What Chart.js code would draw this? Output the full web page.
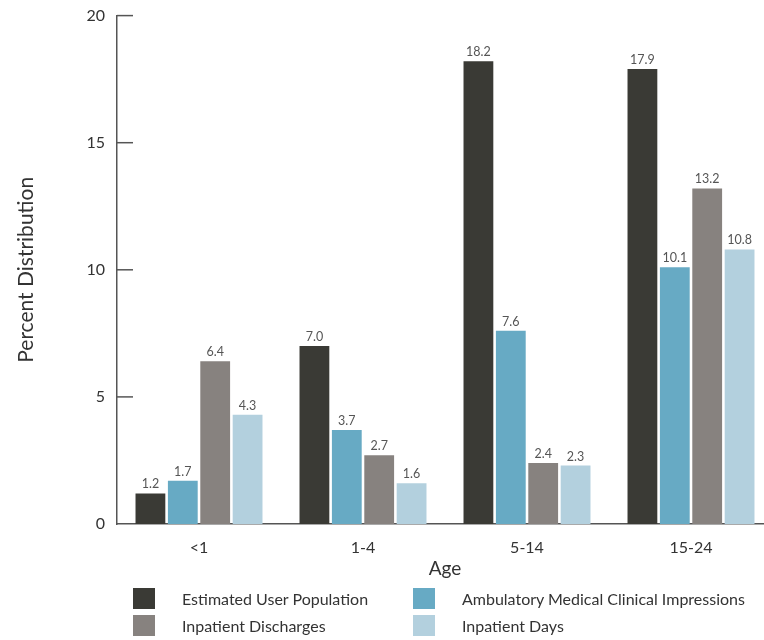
<!DOCTYPE html>
<html><head><meta charset="utf-8">
<script src="https://cdn.jsdelivr.net/npm/chart.js@4/dist/chart.umd.min.js"></script>
<style>
html,body{margin:0;padding:0;overflow:hidden;background:#fff;width:764px;height:640px;}
#wrap{position:relative;width:800px;height:640px;}
#c{position:absolute;left:0;top:-6px;}
#legend{position:absolute;left:0;top:0;width:764px;height:640px;pointer-events:none;font-family:Lato,"Noto Sans",sans-serif;font-size:16px;color:#333;}
.li{position:absolute;display:flex;align-items:center;height:21px;}
.sw{width:22px;height:21px;margin-right:27px;}
</style></head><body>
<div id="wrap"><canvas id="c" width="800" height="646"></canvas><div id="legend"></div></div>
<script>
const categories = ['<1', '1-4', '5-14', '15-24'];
const seriesNames = ['Estimated User Population', 'Ambulatory Medical Clinical Impressions', 'Inpatient Discharges', 'Inpatient Days'];
const estimatedUserPopulation = [1.2, 7.0, 18.2, 17.9];
const ambulatoryMedical = [1.7, 3.7, 7.6, 10.1];
const inpatientDischarges = [6.4, 2.7, 2.4, 13.2];
const inpatientDays = [4.3, 1.6, 2.3, 10.8];
const yTicks = [0, 5, 10, 15, 20];
const colors = ['#3a3a35', '#67aac4', '#87827f', '#b3d0de'];
const seriesData = [estimatedUserPopulation, ambulatoryMedical, inpatientDischarges, inpatientDays];

const FONT = 'Lato, "Noto Sans", sans-serif';

const valueLabels = {
  id: 'valueLabels',
  afterDatasetsDraw(chart) {
    const ctx = chart.ctx;
    ctx.save();
    ctx.font = '12.5px ' + FONT;
    ctx.fillStyle = '#555';
    ctx.textAlign = 'center';
    ctx.textBaseline = 'alphabetic';
    chart.data.datasets.forEach((ds, i) => {
      chart.getDatasetMeta(i).data.forEach((bar, j) => {
        ctx.fillText(ds.data[j].toFixed(1), bar.x, bar.y - 5);
      });
    });
    ctx.restore();
  }
};
const innerTicks = {
  id: 'innerTicks',
  afterDraw(chart) {
    const y = chart.scales.y;
    const ctx = chart.ctx;
    ctx.save();
    ctx.strokeStyle = '#555';
    ctx.lineWidth = 1.5;
    yTicks.forEach(v => {
      if (v === 0) return;
      const py = y.getPixelForValue(v);
      ctx.beginPath();
      ctx.moveTo(y.right, py);
      ctx.lineTo(y.right + 16, py);
      ctx.stroke();
    });
    ctx.restore();
  }
};

new Chart(document.getElementById('c'), {
  type: 'bar',
  data: {
    labels: categories,
    datasets: seriesData.map((d, i) => ({
      label: seriesNames[i], data: d, backgroundColor: colors[i],
      categoryPercentage: 0.79, barPercentage: 0.92
    }))
  },
  options: {
    responsive: false, animation: false,
    layout: { padding: { top: 10, right: 27, bottom: 60, left: 0 } },
    plugins: { legend: { display: false }, tooltip: { enabled: false } },
    scales: {
      x: {
        grid: { display: false, drawTicks: false },
        border: { display: true, color: '#555', width: 1.5 },
        ticks: { color: '#333', font: { family: FONT, size: 16 }, padding: 14 },
        title: { display: true, text: 'Age', color: '#333', font: { family: FONT, size: 19 }, padding: { top: 2, bottom: 0 } },
        afterFit(s) { s.height = 56; }
      },
      y: {
        min: 0, max: 20,
        grid: { display: false, drawTicks: false },
        border: { display: true, color: '#555', width: 1.5 },
        afterBuildTicks(s) { s.ticks = yTicks.map(v => ({ value: v })); },
        ticks: { color: '#333', font: { family: FONT, size: 16 }, padding: 12 },
        title: { display: true, text: 'Percent Distribution', color: '#333', font: { family: FONT, size: 21 }, padding: { top: 14, bottom: 0 } },
        afterFit(s) { s.width = 117; }
      }
    }
  },
  plugins: [valueLabels, innerTicks]
});

const legend = document.getElementById('legend');
const pos = [[133, 588], [413, 588], [133, 615], [413, 615]];
seriesNames.forEach((n, i) => {
  const el = document.createElement('div');
  el.className = 'li';
  el.style.left = pos[i][0] + 'px';
  el.style.top = pos[i][1] + 'px';
  el.innerHTML = '<div class="sw" style="background:' + colors[i] + '"></div><span>' + n + '</span>';
  legend.appendChild(el);
});
</script>
</body></html>
